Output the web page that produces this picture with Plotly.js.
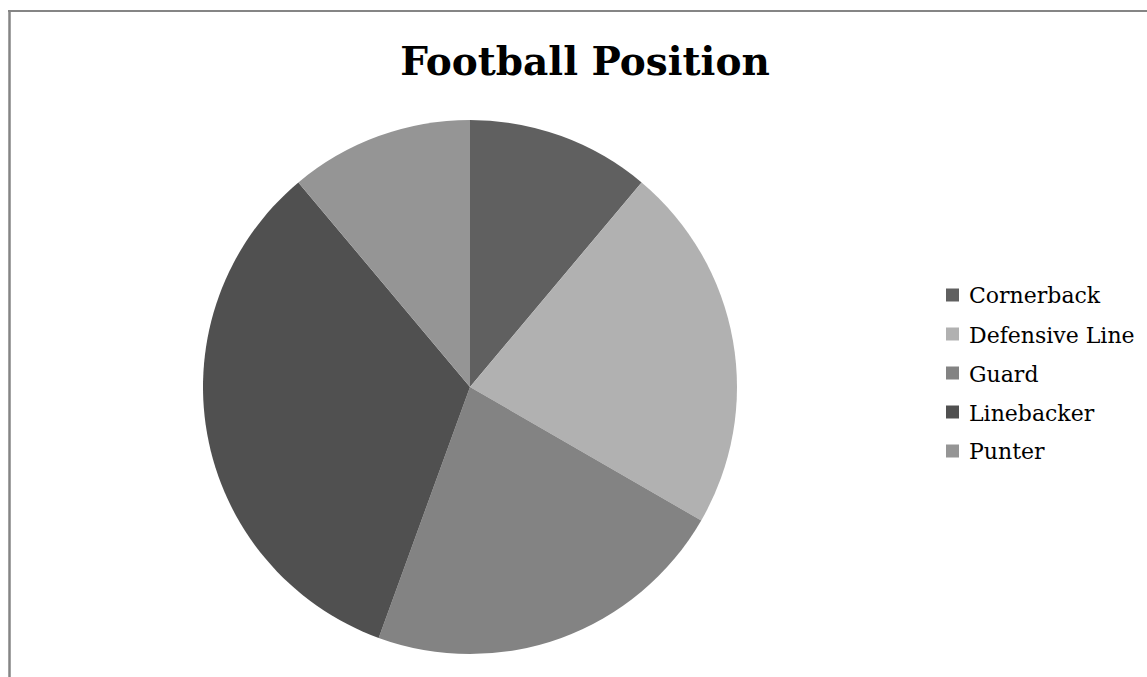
<!DOCTYPE html>
<html>
<head>
<meta charset="utf-8">
<script src="https://cdn.plot.ly/plotly-3.0.1.min.js"></script>
<style>
html,body{margin:0;padding:0;background:#fff;}
#chart{width:1147px;height:677px;}
</style>
</head>
<body>
<div id="chart"></div>
<script>
// Data
const categories = ["Cornerback", "Defensive Line", "Guard", "Linebacker", "Punter"];
const values = [1, 2, 2, 3, 1];
const colors = ["#606060", "#b1b1b1", "#838383", "#505050", "#959595"];
const chartTitle = "Football Position";

const W = 1147, H = 677;
const px = x => x / W;
const py = y => 1 - y / H;

// Pie geometry (pixels)
const cx = 470, cy = 387, r = 267;

// Legend layout (pixels)
const legSquareX = 946, legSquare = 13, legTextX = 967, legTop = 295, legStep = 39;

const shapes = [];
const annotations = [];

// Frame border (top and left visible)
shapes.push({type: "line", xref: "paper", yref: "paper",
  x0: px(9.5), y0: 0, x1: px(9.5), y1: py(11),
  line: {color: "#858585", width: 2.5}});
shapes.push({type: "line", xref: "paper", yref: "paper",
  x0: px(8), y0: py(11), x1: 1, y1: py(11),
  line: {color: "#858585", width: 2.2}});

categories.forEach((c, i) => {
  const yc = legTop + i * legStep;
  shapes.push({type: "rect", xref: "paper", yref: "paper",
    x0: px(legSquareX), x1: px(legSquareX + legSquare),
    y0: py(yc + legSquare / 2), y1: py(yc - legSquare / 2),
    fillcolor: colors[i], line: {width: 0}});
  annotations.push({xref: "paper", yref: "paper",
    x: px(legTextX), y: py(yc + 1), xanchor: "left", yanchor: "middle",
    text: c, showarrow: false,
    font: {family: "DejaVu Serif", size: 22, color: "#000"}});
});

const trace = {
  type: "pie",
  labels: categories,
  values: values,
  sort: false,
  direction: "clockwise",
  rotation: 0,
  textinfo: "none",
  hoverinfo: "label+value+percent",
  marker: {colors: colors, line: {width: 0}},
  domain: {x: [px(cx - r), px(cx + r)], y: [py(cy + r), py(cy - r)]},
  showlegend: false
};

const layout = {
  width: W, height: H,
  margin: {l: 0, r: 0, t: 0, b: 0},
  paper_bgcolor: "#ffffff",
  showlegend: false,
  title: {
    text: "<b>" + chartTitle + "</b>",
    font: {family: "DejaVu Serif", size: 39, color: "#000"},
    x: px(585), xanchor: "center", xref: "paper",
    y: py(61), yanchor: "middle", yref: "container"
  },
  shapes: shapes,
  annotations: annotations
};

Plotly.newPlot("chart", [trace], layout, {displayModeBar: false, staticPlot: true});
</script>
</body>
</html>
